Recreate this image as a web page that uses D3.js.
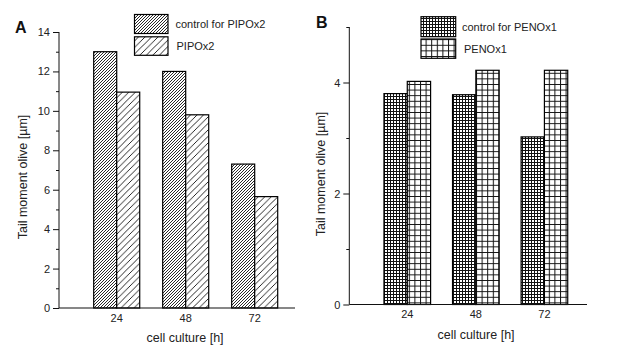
<!DOCTYPE html>
<html><head><meta charset="utf-8">
<script src="https://cdn.jsdelivr.net/npm/d3@7"></script>
<style>
html,body{margin:0;padding:0;background:#fff;}
svg{display:block;font-family:"Liberation Sans",Arial,sans-serif;}
</style></head>
<body>
<svg id="chart" width="620" height="349"></svg>
<script>
const categories = ["24", "48", "72"];
const controlPIPO = [13.0, 12.0, 7.3];
const pipo = [10.95, 9.8, 5.65];
const controlPENO = [3.8, 3.78, 3.02];
const peno = [4.02, 4.22, 4.22];
const seriesNamesA = ["control for PIPOx2", "PIPOx2"];
const seriesNamesB = ["control for PENOx1", "PENOx1"];
const yTicksA = [0, 2, 4, 6, 8, 10, 12, 14];
const yTicksB = [0, 2, 4];

const svg = d3.select("#chart");
const defs = svg.append("defs");

function hatch(id, w, sw) {
  const p = defs.append("pattern").attr("id", id).attr("patternUnits", "userSpaceOnUse")
    .attr("width", w).attr("height", w);
  p.append("rect").attr("width", w).attr("height", w).attr("fill", "#fff");
  p.append("path").attr("d", `M0,${w} L${w},0 M${-w/2},${w/2} L${w/2},${-w/2} M${w/2},${w*1.5} L${w*1.5},${w/2}`)
    .attr("stroke", "#111").attr("stroke-width", sw);
}
function grid(id, w, sw) {
  const p = defs.append("pattern").attr("id", id).attr("patternUnits", "userSpaceOnUse")
    .attr("width", w).attr("height", w);
  p.append("rect").attr("width", w).attr("height", w).attr("fill", "#fff");
  p.append("path").attr("d", `M0,0.5 L${w},0.5 M0.5,0 L0.5,${w}`)
    .attr("stroke", "#111").attr("stroke-width", sw);
}
hatch("hDense", 3, 0.9);
hatch("hSparse", 6.5, 0.9);
grid("gDense", 3, 1);
grid("gSparse", 5.6, 1);

function panel(cfg) {
  const g = svg.append("g");
  const y = d3.scaleLinear().domain(cfg.yDomain).range(cfg.yRange);
  const x = d3.scaleBand().domain(categories).range(cfg.xRange)
    .paddingInner(cfg.padIn).paddingOuter(cfg.padOut);
  const xs = d3.scaleBand().domain([0, 1]).range([0, x.bandwidth()]);

  [cfg.s1, cfg.s2].forEach((vals, si) => {
    g.selectAll(null).data(vals).enter().append("rect")
      .attr("x", (d, i) => x(categories[i]) + xs(si))
      .attr("y", d => y(d))
      .attr("width", xs.bandwidth())
      .attr("height", d => y(0) - y(d))
      .attr("fill", `url(#${cfg.fills[si]})`)
      .attr("stroke", "#000").attr("stroke-width", 1.2);
  });

  const yAxis = d3.axisLeft(y).tickValues(cfg.yTicks).tickSize(6).tickPadding(3).tickFormat(d3.format("d"));
  const ya = g.append("g").attr("transform", `translate(${cfg.axisX},0)`).call(yAxis);
  const yMinor = d3.axisLeft(y).tickValues(cfg.minorTicks).tickSize(3).tickFormat("");
  const ym = g.append("g").attr("transform", `translate(${cfg.axisX},0)`).call(yMinor);
  ym.select(".domain").remove();
  [ya, ym].forEach(a => {
    a.selectAll("line").attr("stroke", "#111");
    a.select(".domain").attr("stroke", "#111").attr("d", `M0,${cfg.yRange[0]}V${y(cfg.yDomain[1])}`);
    a.selectAll("text").attr("font-size", 11).attr("fill", "#222").attr("font-family", "Liberation Sans, Arial, sans-serif");
  });

  const xAxis = d3.axisBottom(x).tickSize(0).tickPadding(cfg.xTickPad);
  const xa = g.append("g").attr("transform", `translate(0,${y(0)})`).call(xAxis);
  xa.select(".domain").attr("d", `M${cfg.axisX},0H${cfg.xAxisEnd}`).attr("stroke", "#111").attr("stroke-width", 1.2);
  xa.selectAll("text").attr("font-size", 11).attr("fill", "#222").attr("font-family", "Liberation Sans, Arial, sans-serif");

  g.append("text").attr("x", cfg.xTitle[0]).attr("y", cfg.xTitle[1]).attr("text-anchor", "middle")
    .attr("font-size", 12.5).attr("fill", "#222").text("cell culture [h]");
  g.append("text").attr("transform", `translate(${cfg.yTitle[0]},${cfg.yTitle[1]}) rotate(-90)`)
    .attr("text-anchor", "middle").attr("font-size", 12.5).attr("fill", "#222").text("Tail moment olive [µm]");
  g.append("text").attr("x", cfg.letter[0]).attr("y", cfg.letter[1]).attr("font-size", 16)
    .attr("font-weight", "bold").attr("fill", "#111").text(cfg.letterText);

  cfg.legend.forEach((L, i) => {
    g.append("rect").attr("x", L.x).attr("y", L.y).attr("width", L.w).attr("height", L.h)
      .attr("fill", `url(#${cfg.fills[i]})`).attr("stroke", "#000").attr("stroke-width", 1.2);
    g.append("text").attr("x", L.tx).attr("y", L.y + L.h / 2 + 4).attr("font-size", 11)
      .attr("fill", "#222").text(cfg.names[i]);
  });
}

panel({
  yDomain: [0, 14], yRange: [308, 32], yTicks: yTicksA, minorTicks: [1, 3, 5, 7, 9, 11, 13],
  xRange: [82.2, 289.2], padIn: 0.333, padOut: 0.1667, axisX: 59, xAxisEnd: 295, xTickPad: 6,
  s1: controlPIPO, s2: pipo, fills: ["hDense", "hSparse"], names: seriesNamesA,
  xTitle: [185, 342], yTitle: [27, 177], letter: [15, 33], letterText: "A",
  legend: [
    { x: 134.5, y: 14.5, w: 33.5, h: 19, tx: 175.5 },
    { x: 134.5, y: 36.8, w: 33.5, h: 18.5, tx: 176.5 }
  ]
});

panel({
  yDomain: [0, 5], yRange: [304.5, 27], yTicks: yTicksB, minorTicks: [1, 3, 5],
  xRange: [373, 578.7], padIn: 0.32, padOut: 0.16, axisX: 349.3, xAxisEnd: 587, xTickPad: 6,
  s1: controlPENO, s2: peno, fills: ["gDense", "gSparse"], names: seriesNamesB,
  xTitle: [476, 339], yTitle: [325, 174], letter: [316, 28], letterText: "B",
  legend: [
    { x: 421, y: 16.7, w: 34.7, h: 20, tx: 462 },
    { x: 421, y: 39, w: 34.7, h: 19.3, tx: 464 }
  ]
});
</script>
</body></html>
